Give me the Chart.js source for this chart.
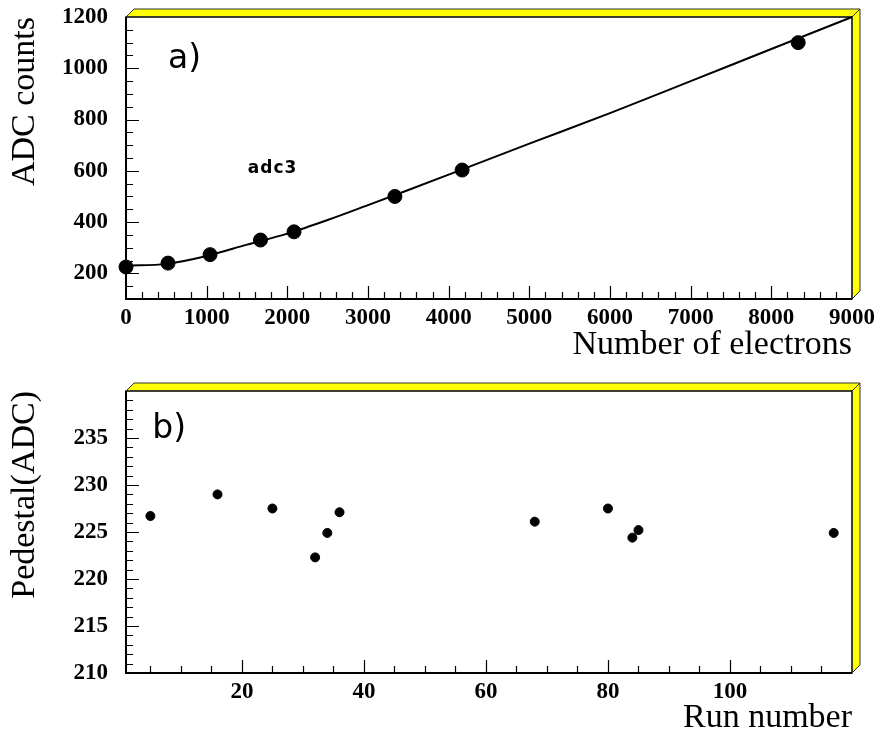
<!DOCTYPE html>
<html>
<head>
<meta charset="utf-8">
<title>ADC calibration and pedestal</title>
<script src="https://cdn.jsdelivr.net/npm/chart.js@4/dist/chart.umd.min.js"></script>
<style>
  html, body { margin: 0; padding: 0; background: #fff; }
  .panel { position: absolute; left: 0; width: 880px; }
  #top { top: 0; height: 370px; }
  #bottom { top: 370px; height: 368px; }
</style>
</head>
<body>
<div class="panel" id="top"><canvas id="adcChart"></canvas></div>
<div class="panel" id="bottom"><canvas id="pedChart"></canvas></div>
<script>
// a) ADC response vs number of electrons
const electrons = [0, 521, 1042, 1667, 2083, 3333, 4167, 8333];
const adcCounts = [225, 240, 273, 330, 362, 500, 603, 1100];
// fitted response curve
const fitElectrons = [0, 500, 1000, 1500, 2000, 2500, 3000, 3500, 4000, 5000, 6000, 7000, 8000, 9000];
const fitAdc       = [230, 237, 268, 312, 355, 408, 466, 525, 585, 706, 825, 950, 1075, 1200];
const electronTicks = [0, 1000, 2000, 3000, 4000, 5000, 6000, 7000, 8000, 9000];
const adcTicks = [200, 400, 600, 800, 1000, 1200];

// b) pedestal per run
const runs      = [5, 16, 25, 32, 34, 36, 68, 80, 84, 85, 117];
const pedestals = [226.7, 229.0, 227.5, 222.3, 224.9, 227.1, 226.1, 227.5, 224.4, 225.2, 224.9];
const runTicks = [20, 40, 60, 80, 100];
const pedestalTicks = [210, 215, 220, 225, 230, 235];

const serif = "'Liberation Serif', 'Times New Roman', serif";
const sans  = "'DejaVu Sans', sans-serif";

// PAW-style box: yellow 3D rim, inward major/minor ticks, text notes in data coords
const rootFrame = {
    id: 'rootFrame',
    beforeDatasetsDraw(chart, args, opts) {
        const { ctx, chartArea: { left, top, right, bottom } } = chart;
        const d = opts.depth;
        ctx.save();
        ctx.fillStyle = '#ffff00';
        ctx.strokeStyle = '#333';
        ctx.lineWidth = 1;
        ctx.beginPath();
        ctx.moveTo(left, top);
        ctx.lineTo(left + d, top - d);
        ctx.lineTo(right + d, top - d);
        ctx.lineTo(right, top);
        ctx.closePath();
        ctx.fill(); ctx.stroke();
        ctx.beginPath();
        ctx.moveTo(right, top);
        ctx.lineTo(right + d, top - d);
        ctx.lineTo(right + d, bottom - d);
        ctx.lineTo(right, bottom);
        ctx.closePath();
        ctx.fill(); ctx.stroke();

        ctx.strokeStyle = '#222';
        ctx.lineWidth = 1.5;
        ctx.strokeRect(left, top, right - left, bottom - top);

        // ticks along the bottom and left axes, pointing inward
        const isMajor = (v, step) => Math.abs(v / step - Math.round(v / step)) < 1e-6;
        ctx.strokeStyle = '#000';
        ctx.lineWidth = 1.2;
        const xs = chart.scales.x, ys = chart.scales.y;
        ctx.beginPath();
        for (let i = Math.ceil(xs.min / opts.xMinor); i * opts.xMinor < xs.max; i++) {
            const v = i * opts.xMinor;
            if (v <= xs.min) continue;
            const px = Math.round(xs.getPixelForValue(v)) + 0.5;
            const len = isMajor(v, opts.xMajor) ? opts.majorLen : opts.minorLen;
            ctx.moveTo(px, bottom);
            ctx.lineTo(px, bottom - len);
        }
        for (let i = Math.ceil(ys.min / opts.yMinor); i * opts.yMinor < ys.max; i++) {
            const v = i * opts.yMinor;
            if (v <= ys.min) continue;
            const py = Math.round(ys.getPixelForValue(v)) + 0.5;
            const len = isMajor(v, opts.yMajor) ? opts.majorLen : opts.minorLen;
            ctx.moveTo(left, py);
            ctx.lineTo(left + len, py);
        }
        ctx.stroke();

        ctx.lineWidth = 2;
        ctx.beginPath();
        ctx.moveTo(left, top);
        ctx.lineTo(left, bottom);
        ctx.lineTo(right, bottom);
        ctx.stroke();
        ctx.restore();
    },
    afterDatasetsDraw(chart, args, opts) {
        const { ctx } = chart;
        ctx.save();
        ctx.fillStyle = '#000';
        ctx.textBaseline = 'alphabetic';
        ctx.textAlign = 'left';
        (opts.notes || []).forEach(n => {
            ctx.font = n.font;
            ctx.letterSpacing = n.spacing || '0px';
            ctx.fillText(n.text, chart.scales.x.getPixelForValue(n.x), chart.scales.y.getPixelForValue(n.y));
        });
        ctx.restore();
    }
};

const tickFont = { family: serif, weight: 'bold', size: 23 };
const titleFont = { family: serif, size: 34 };
const plainNumber = v => String(v);

function xAxis(min, max, ticks, title, height, titlePad) {
    return {
        type: 'linear', min, max,
        afterBuildTicks: s => { s.ticks = ticks.map(v => ({ value: v })); },
        afterFit: s => { s.height = height; s.paddingLeft = 0; s.paddingRight = 0; },
        grid: { display: false, drawTicks: false },
        border: { display: false },
        ticks: { color: '#000', font: tickFont, padding: 5, maxRotation: 0, autoSkip: false, callback: plainNumber },
        title: { display: true, text: title, align: 'end', color: '#000', font: titleFont,
                 padding: { top: 0, bottom: titlePad } }
    };
}

function yAxis(min, max, ticks, title) {
    return {
        type: 'linear', min, max,
        afterBuildTicks: s => { s.ticks = ticks.map(v => ({ value: v })); },
        afterFit: s => { s.width = 126; s.paddingTop = 0; s.paddingBottom = 0; },
        grid: { display: false, drawTicks: false },
        border: { display: false },
        ticks: { color: '#000', font: tickFont, padding: 18, autoSkip: false, callback: plainNumber },
        title: { display: true, text: title, align: 'end', color: '#000', font: titleFont,
                 padding: { top: 5, bottom: 0 } }
    };
}

const baseOptions = {
    responsive: true,
    maintainAspectRatio: false,
    animation: false,
    events: [],
    plugins: { legend: { display: false }, tooltip: { enabled: false } }
};

new Chart(document.getElementById('adcChart'), {
    type: 'scatter',
    data: {
        datasets: [
            {
                label: 'adc3',
                data: electrons.map((x, i) => ({ x, y: adcCounts[i] })),
                backgroundColor: '#000',
                borderColor: '#000',
                pointRadius: 7,
                clip: false
            },
            {
                label: 'fit',
                data: fitElectrons.map((x, i) => ({ x, y: fitAdc[i] })),
                showLine: true,
                borderColor: '#000',
                borderWidth: 2,
                pointRadius: 0,
                cubicInterpolationMode: 'monotone',
                clip: false
            }
        ]
    },
    options: {
        ...baseOptions,
        layout: { padding: { left: 0, top: 17, right: 28, bottom: 0 } },
        scales: {
            x: xAxis(0, 9000, electronTicks, 'Number of electrons', 71, 5),
            y: yAxis(100, 1200, adcTicks, 'ADC counts')
        },
        plugins: {
            ...baseOptions.plugins,
            rootFrame: {
                depth: 8, xMinor: 200, xMajor: 1000, yMinor: 50, yMajor: 200,
                majorLen: 13, minorLen: 7,
                notes: [
                    { text: 'a)', x: 520, y: 1000, font: `33px ${sans}` },
                    { text: 'adc3', x: 1510, y: 590, font: `bold 17px ${sans}`, spacing: '1px' }
                ]
            }
        }
    },
    plugins: [rootFrame]
});

new Chart(document.getElementById('pedChart'), {
    type: 'scatter',
    data: {
        datasets: [{
            label: 'pedestal',
            data: runs.map((x, i) => ({ x, y: pedestals[i] })),
            backgroundColor: '#000',
            borderColor: '#000',
            pointRadius: 4.5,
            clip: false
        }]
    },
    options: {
        ...baseOptions,
        layout: { padding: { left: 0, top: 21, right: 28, bottom: 0 } },
        scales: {
            x: xAxis(1, 120, runTicks, 'Run number', 65, 0),
            y: yAxis(210, 240, pedestalTicks, 'Pedestal(ADC)')
        },
        plugins: {
            ...baseOptions.plugins,
            rootFrame: {
                depth: 8, xMinor: 5, xMajor: 20, yMinor: 1, yMajor: 5,
                majorLen: 13, minorLen: 7,
                notes: [
                    { text: 'b)', x: 5.3, y: 235, font: `33px ${sans}` }
                ]
            }
        }
    },
    plugins: [rootFrame]
});
</script>
</body>
</html>
